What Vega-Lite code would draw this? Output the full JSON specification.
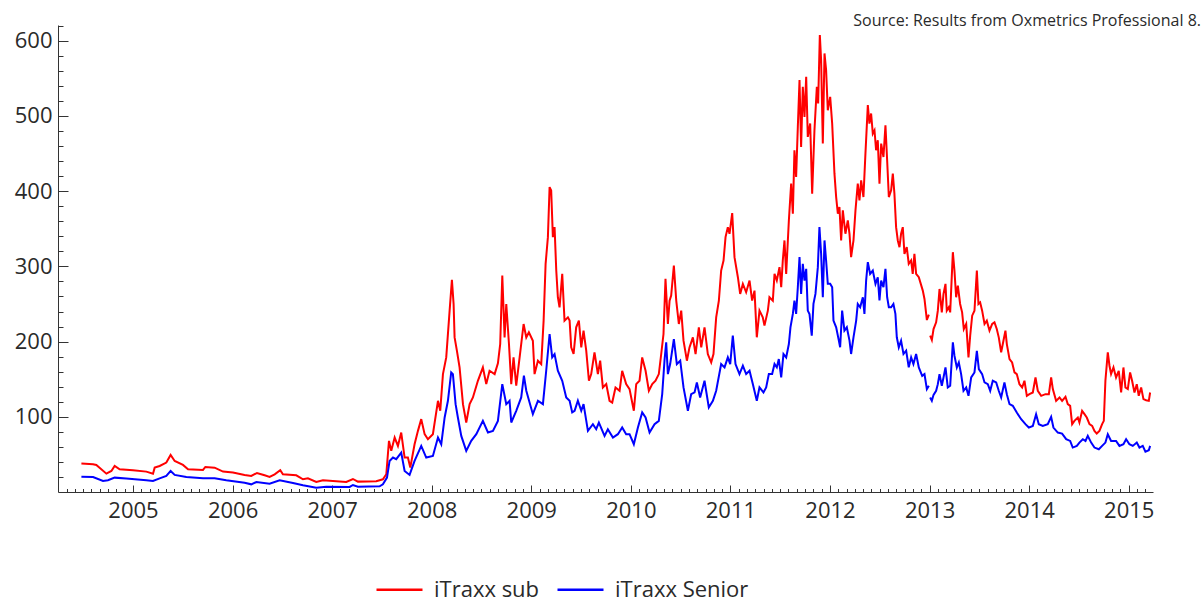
{
  "$schema": "https://vega.github.io/schema/vega-lite/v6.json",
  "width": 1095,
  "height": 467,
  "autosize": {"type": "none"},
  "padding": {"left": 58, "top": 25, "right": 49, "bottom": 107},
  "background": "white",
  "config": {"view": {"stroke": null}, "font": "Open Sans"},
  "title": {
    "text": "Source: Results from Oxmetrics Professional 8.",
    "anchor": "end",
    "orient": "top",
    "frame": "group",
    "font": "Open Sans",
    "fontSize": 16,
    "fontWeight": "normal",
    "color": "#2a2a2a",
    "dx": 48,
    "offset": -27,
    "baseline": "alphabetic"
  },
  "datasets": {
    "sub": [
      {"t":2004.482,"v":37.8},{"t":2004.599,"v":36.9},{"t":2004.632,"v":36.0},{"t":2004.733,"v":24.4},{"t":2004.783,"v":28.0},{"t":2004.816,"v":34.6},{"t":2004.866,"v":30.2},{"t":2005.000,"v":28.9},{"t":2005.134,"v":27.1},{"t":2005.201,"v":24.4},{"t":2005.218,"v":32.4},{"t":2005.268,"v":34.6},{"t":2005.335,"v":39.1},{"t":2005.378,"v":49.3},{"t":2005.419,"v":41.3},{"t":2005.502,"v":36.0},{"t":2005.553,"v":30.2},{"t":2005.703,"v":29.3},{"t":2005.727,"v":33.3},{"t":2005.820,"v":32.4},{"t":2005.904,"v":27.1},{"t":2006.004,"v":25.8},{"t":2006.121,"v":22.7},{"t":2006.188,"v":21.3},{"t":2006.245,"v":25.3},{"t":2006.322,"v":22.2},{"t":2006.372,"v":20.0},{"t":2006.423,"v":23.5},{"t":2006.479,"v":28.9},{"t":2006.506,"v":23.5},{"t":2006.640,"v":22.2},{"t":2006.707,"v":16.9},{"t":2006.757,"v":18.2},{"t":2006.841,"v":13.3},{"t":2006.908,"v":15.6},{"t":2007.142,"v":13.3},{"t":2007.209,"v":17.3},{"t":2007.259,"v":13.8},{"t":2007.443,"v":14.2},
      {"t":2007.510,"v":16.9},{"t":2007.544,"v":23.6},{"t":2007.571,"v":68.0},{"t":2007.594,"v":54.7},{"t":2007.628,"v":72.4},{"t":2007.661,"v":61.3},{"t":2007.694,"v":79.1},{"t":2007.728,"v":45.8},{"t":2007.761,"v":45.8},{"t":2007.785,"v":32.5},{"t":2007.828,"v":63.5},{"t":2007.862,"v":81.3},{"t":2007.895,"v":96.9},{"t":2007.929,"v":76.9},{"t":2007.962,"v":70.2},{"t":2008.012,"v":76.9},{"t":2008.063,"v":121.3},{"t":2008.086,"v":108.0},{"t":2008.113,"v":156.8},{"t":2008.146,"v":179.0},{"t":2008.180,"v":241.2},{"t":2008.203,"v":282.0},{"t":2008.220,"v":250.0},{"t":2008.230,"v":205.6},{"t":2008.253,"v":187.9},{"t":2008.280,"v":165.7},{"t":2008.314,"v":116.8},{"t":2008.347,"v":92.4},{"t":2008.381,"v":116.8},{"t":2008.414,"v":125.7},{"t":2008.464,"v":147.9},{"t":2008.514,"v":165.7},{"t":2008.548,"v":143.5},{"t":2008.581,"v":161.2},{"t":2008.632,"v":156.8},{"t":2008.665,"v":171.0},{"t":2008.688,"v":196.8},{"t":2008.709,"v":287.8},{"t":2008.732,"v":205.6},{"t":2008.749,"v":250.0},{"t":2008.776,"v":196.8},{"t":2008.799,"v":143.5},{"t":2008.822,"v":179.0},{"t":2008.849,"v":141.3},{"t":2008.883,"v":179.0},{"t":2008.923,"v":223.4},{"t":2008.950,"v":205.6},{"t":2008.976,"v":212.3},{"t":2009.016,"v":201.2},{"t":2009.033,"v":156.8},{"t":2009.067,"v":174.6},{"t":2009.100,"v":170.1},{"t":2009.124,"v":227.9},{"t":2009.144,"v":303.4},{"t":2009.167,"v":338.9},{"t":2009.184,"v":405.5},{"t":2009.200,"v":401.0},{"t":2009.217,"v":338.9},{"t":2009.234,"v":352.2},{"t":2009.251,"v":294.5},{"t":2009.267,"v":259.0},{"t":2009.284,"v":245.6},{"t":2009.311,"v":290.0},{"t":2009.334,"v":227.9},{"t":2009.368,"v":232.3},
      {"t":2009.385,"v":227.9},{"t":2009.401,"v":192.3},{"t":2009.425,"v":183.5},{"t":2009.451,"v":219.0},{"t":2009.478,"v":227.9},{"t":2009.502,"v":192.3},{"t":2009.525,"v":214.5},{"t":2009.552,"v":187.9},{"t":2009.579,"v":147.9},{"t":2009.602,"v":156.8},{"t":2009.635,"v":185.7},{"t":2009.669,"v":156.8},{"t":2009.692,"v":174.6},{"t":2009.719,"v":139.0},{"t":2009.753,"v":143.5},{"t":2009.786,"v":121.3},{"t":2009.813,"v":119.0},{"t":2009.846,"v":139.0},{"t":2009.887,"v":134.6},{"t":2009.913,"v":161.2},{"t":2009.953,"v":143.5},{"t":2009.987,"v":136.8},{"t":2010.030,"v":108.0},{"t":2010.054,"v":143.5},{"t":2010.087,"v":147.9},{"t":2010.114,"v":179.0},{"t":2010.148,"v":161.2},{"t":2010.181,"v":134.6},{"t":2010.215,"v":143.5},{"t":2010.248,"v":147.9},{"t":2010.281,"v":156.8},{"t":2010.305,"v":183.5},{"t":2010.328,"v":210.1},{"t":2010.348,"v":283.4},{"t":2010.372,"v":223.4},{"t":2010.389,"v":254.5},{"t":2010.405,"v":261.2},{"t":2010.432,"v":301.1},{"t":2010.456,"v":254.5},{"t":2010.482,"v":223.4},{"t":2010.506,"v":241.2},{"t":2010.529,"v":201.2},{"t":2010.563,"v":174.6},{"t":2010.589,"v":192.3},{"t":2010.623,"v":205.7},{"t":2010.650,"v":183.5},{"t":2010.683,"v":219.0},{"t":2010.707,"v":192.3},{"t":2010.740,"v":219.0},{"t":2010.773,"v":183.5},{"t":2010.807,"v":172.4},{"t":2010.830,"v":183.5},{"t":2010.857,"v":232.3},{"t":2010.884,"v":254.5},{"t":2010.907,"v":294.5},{"t":2010.931,"v":307.8},{"t":2010.951,"v":338.9},{"t":2010.974,"v":352.2},{"t":2010.991,"v":343.3},{"t":2011.018,"v":371.0},{"t":2011.041,"v":312.3},{"t":2011.075,"v":285.6},{"t":2011.098,"v":263.4},{"t":2011.125,"v":276.7},{"t":2011.158,"v":265.6},{"t":2011.192,"v":281.2},{"t":2011.218,"v":254.5},{"t":2011.242,"v":267.8},{"t":2011.265,"v":205.7},
      {"t":2011.292,"v":241.2},{"t":2011.325,"v":232.3},{"t":2011.342,"v":221.2},{"t":2011.376,"v":241.2},{"t":2011.392,"v":259.0},{"t":2011.426,"v":254.5},{"t":2011.443,"v":290.1},{"t":2011.466,"v":281.2},{"t":2011.493,"v":299.0},{"t":2011.510,"v":272.3},{"t":2011.526,"v":307.9},{"t":2011.543,"v":334.5},{"t":2011.560,"v":290.1},{"t":2011.587,"v":361.1},{"t":2011.610,"v":410.0},{"t":2011.627,"v":370.0},{"t":2011.643,"v":454.4},{"t":2011.660,"v":418.9},{"t":2011.677,"v":485.5},{"t":2011.694,"v":547.7},{"t":2011.710,"v":458.8},{"t":2011.727,"v":538.8},{"t":2011.744,"v":498.8},{"t":2011.761,"v":552.1},{"t":2011.777,"v":472.2},{"t":2011.801,"v":490.0},{"t":2011.821,"v":396.7},{"t":2011.844,"v":481.0},{"t":2011.868,"v":538.8},{"t":2011.881,"v":516.6},{"t":2011.898,"v":607.6},{"t":2011.911,"v":574.3},{"t":2011.928,"v":463.3},{"t":2011.945,"v":583.2},{"t":2011.961,"v":561.0},{"t":2011.978,"v":507.7},{"t":2012.002,"v":525.5},{"t":2012.022,"v":489.9},{"t":2012.045,"v":423.3},{"t":2012.062,"v":392.2},{"t":2012.079,"v":370.0},{"t":2012.095,"v":378.9},{"t":2012.112,"v":334.5},{"t":2012.129,"v":374.5},{"t":2012.155,"v":343.4},{"t":2012.179,"v":361.1},{"t":2012.196,"v":343.4},{"t":2012.212,"v":312.3},{"t":2012.236,"v":334.5},{"t":2012.256,"v":374.5},{"t":2012.279,"v":410.0},{"t":2012.296,"v":387.8},{"t":2012.313,"v":414.4},{"t":2012.336,"v":392.2},{"t":2012.356,"v":450.0},{"t":2012.380,"v":514.4},{"t":2012.396,"v":489.9},{"t":2012.413,"v":503.3},{"t":2012.430,"v":476.6},{"t":2012.447,"v":481.0},{"t":2012.463,"v":454.4},{"t":2012.480,"v":467.7},{"t":2012.497,"v":410.0},{"t":2012.514,"v":463.3},{"t":2012.537,"v":445.5},{"t":2012.557,"v":487.7},{"t":2012.574,"v":441.1},{"t":2012.591,"v":392.2},{"t":2012.614,"v":401.1},{"t":2012.631,"v":423.3},{"t":2012.647,"v":396.7},{"t":2012.664,"v":352.2},{"t":2012.681,"v":334.5},{"t":2012.698,"v":325.6},{"t":2012.714,"v":343.4},{"t":2012.731,"v":352.2},{"t":2012.748,"v":316.7},{"t":2012.771,"v":325.6},{"t":2012.791,"v":303.4},{"t":2012.815,"v":307.9},{"t":2012.831,"v":290.1},{"t":2012.848,"v":316.7},{"t":2012.865,"v":290.1},{"t":2012.892,"v":285.6},
      {"t":2012.932,"v":267.8},{"t":2012.949,"v":256.7},{"t":2012.973,"v":228.7},{"t":2012.993,"v":235.8},{"t":2013.000,"v":null},{"t":2013.006,"v":207.8},{"t":2013.023,"v":202.1},{"t":2013.040,"v":216.7},{"t":2013.066,"v":225.6},{"t":2013.083,"v":241.1},{"t":2013.100,"v":270.0},{"t":2013.123,"v":238.9},{"t":2013.140,"v":263.3},{"t":2013.160,"v":276.7},{"t":2013.173,"v":241.1},{"t":2013.193,"v":245.6},{"t":2013.207,"v":238.9},{"t":2013.234,"v":318.9},{"t":2013.250,"v":294.4},{"t":2013.267,"v":258.9},{"t":2013.284,"v":274.4},{"t":2013.307,"v":250.0},{"t":2013.327,"v":238.9},{"t":2013.344,"v":216.7},{"t":2013.368,"v":223.4},{"t":2013.391,"v":179.0},{"t":2013.408,"v":207.8},{"t":2013.428,"v":234.5},{"t":2013.451,"v":241.1},{"t":2013.475,"v":294.4},{"t":2013.491,"v":250.0},{"t":2013.508,"v":252.2},{"t":2013.528,"v":241.1},{"t":2013.552,"v":223.4},{"t":2013.575,"v":227.8},{"t":2013.602,"v":214.5},{"t":2013.629,"v":223.4},{"t":2013.652,"v":225.6},{"t":2013.675,"v":216.7},{"t":2013.695,"v":205.6},{"t":2013.719,"v":185.6},{"t":2013.742,"v":201.2},{"t":2013.762,"v":214.5},{"t":2013.776,"v":196.7},{"t":2013.803,"v":176.7},{"t":2013.829,"v":172.3},{"t":2013.853,"v":159.0},{"t":2013.876,"v":156.8},{"t":2013.903,"v":143.4},{"t":2013.930,"v":139.0},{"t":2013.953,"v":147.9},{"t":2013.977,"v":127.9},{"t":2014.003,"v":130.1},{"t":2014.037,"v":132.3},{"t":2014.064,"v":152.3},{"t":2014.087,"v":134.6},{"t":2014.121,"v":127.9},{"t":2014.164,"v":130.1},{"t":2014.198,"v":130.1},{"t":2014.221,"v":152.3},{"t":2014.238,"v":136.8},{"t":2014.271,"v":121.2},{"t":2014.305,"v":125.7},{"t":2014.331,"v":121.2},{"t":2014.365,"v":126.6},{"t":2014.388,"v":116.8},{"t":2014.412,"v":114.6},{"t":2014.432,"v":90.2},{"t":2014.455,"v":94.6},{"t":2014.489,"v":99.0},{"t":2014.505,"v":92.4},{"t":2014.532,"v":107.9},{"t":2014.556,"v":103.5},{"t":2014.579,"v":99.0},{"t":2014.606,"v":90.2},{"t":2014.633,"v":87.9},{"t":2014.656,"v":81.3},{"t":2014.679,"v":77.7},{"t":2014.706,"v":81.3},{"t":2014.733,"v":90.2},{"t":2014.750,"v":94.6},{"t":2014.766,"v":147.9},{"t":2014.790,"v":185.6},{"t":2014.807,"v":167.9},{"t":2014.823,"v":156.8},{"t":2014.847,"v":165.6},{"t":2014.873,"v":152.3},{"t":2014.900,"v":161.2},{"t":2014.924,"v":132.3},{"t":2014.947,"v":165.6},{"t":2014.967,"v":139.0},{"t":2014.991,"v":136.8},{"t":2015.014,"v":159.0},{"t":2015.034,"v":147.9},{"t":2015.058,"v":132.3},{"t":2015.081,"v":143.4},{"t":2015.101,"v":127.9},{"t":2015.125,"v":139.0},{"t":2015.148,"v":123.5},{"t":2015.175,"v":122.1},{"t":2015.202,"v":121.2},{"t":2015.215,"v":132.3}
    ],
    "senior": [
      {"t":2004.482,"v":20.4},{"t":2004.599,"v":20.0},{"t":2004.699,"v":14.7},{"t":2004.749,"v":15.6},{"t":2004.816,"v":19.1},{"t":2004.933,"v":17.8},{"t":2005.134,"v":15.6},{"t":2005.201,"v":14.7},{"t":2005.268,"v":18.2},{"t":2005.335,"v":21.3},{"t":2005.378,"v":28.0},{"t":2005.419,"v":22.7},{"t":2005.536,"v":20.0},{"t":2005.703,"v":18.2},{"t":2005.820,"v":18.2},{"t":2005.937,"v":15.6},{"t":2006.121,"v":12.4},{"t":2006.188,"v":10.2},{"t":2006.239,"v":13.3},{"t":2006.372,"v":11.1},{"t":2006.473,"v":15.6},{"t":2006.607,"v":12.0},{"t":2006.707,"v":8.9},{"t":2006.841,"v":5.8},{"t":2006.941,"v":7.1},{"t":2007.176,"v":6.7},{"t":2007.209,"v":9.3},{"t":2007.259,"v":7.1},{"t":2007.477,"v":7.6},
      {"t":2007.510,"v":10.2},{"t":2007.551,"v":19.1},{"t":2007.577,"v":41.3},{"t":2007.611,"v":45.8},{"t":2007.644,"v":43.6},{"t":2007.694,"v":52.4},{"t":2007.728,"v":28.0},{"t":2007.778,"v":22.7},{"t":2007.828,"v":41.3},{"t":2007.895,"v":61.3},{"t":2007.945,"v":45.8},{"t":2008.012,"v":48.0},{"t":2008.063,"v":72.4},{"t":2008.096,"v":63.5},{"t":2008.130,"v":99.1},{"t":2008.163,"v":121.3},{"t":2008.196,"v":159.0},{"t":2008.213,"v":156.8},{"t":2008.240,"v":116.8},{"t":2008.263,"v":99.1},{"t":2008.297,"v":74.6},{"t":2008.347,"v":54.7},{"t":2008.397,"v":68.0},{"t":2008.448,"v":76.9},{"t":2008.514,"v":94.6},{"t":2008.565,"v":79.1},{"t":2008.615,"v":81.3},{"t":2008.665,"v":94.6},{"t":2008.709,"v":143.5},{"t":2008.749,"v":116.8},{"t":2008.782,"v":121.3},{"t":2008.799,"v":92.4},{"t":2008.849,"v":108.0},{"t":2008.899,"v":125.7},{"t":2008.926,"v":154.6},{"t":2008.950,"v":134.6},{"t":2008.983,"v":119.0},{"t":2009.016,"v":103.5},{"t":2009.067,"v":121.3},{"t":2009.117,"v":116.8},{"t":2009.150,"v":161.2},{"t":2009.184,"v":210.1},{"t":2009.210,"v":179.0},{"t":2009.234,"v":183.4},{"t":2009.267,"v":161.2},{"t":2009.311,"v":147.9},{"t":2009.351,"v":125.7},
      {"t":2009.385,"v":121.3},{"t":2009.411,"v":105.8},{"t":2009.435,"v":108.0},{"t":2009.468,"v":121.3},{"t":2009.502,"v":108.0},{"t":2009.525,"v":116.8},{"t":2009.569,"v":81.3},{"t":2009.619,"v":90.2},{"t":2009.652,"v":83.5},{"t":2009.679,"v":92.4},{"t":2009.736,"v":74.6},{"t":2009.769,"v":83.5},{"t":2009.820,"v":72.4},{"t":2009.870,"v":76.9},{"t":2009.913,"v":85.8},{"t":2009.953,"v":76.9},{"t":2009.987,"v":76.9},{"t":2010.030,"v":63.5},{"t":2010.071,"v":85.8},{"t":2010.114,"v":105.8},{"t":2010.148,"v":99.1},{"t":2010.188,"v":79.1},{"t":2010.238,"v":90.2},{"t":2010.281,"v":94.6},{"t":2010.315,"v":130.2},{"t":2010.338,"v":174.6},{"t":2010.355,"v":199.0},{"t":2010.372,"v":156.8},{"t":2010.395,"v":170.1},{"t":2010.432,"v":203.4},{"t":2010.462,"v":170.1},{"t":2010.496,"v":174.6},{"t":2010.529,"v":139.0},{"t":2010.573,"v":108.0},{"t":2010.606,"v":130.2},{"t":2010.640,"v":132.4},{"t":2010.663,"v":145.7},{"t":2010.696,"v":125.7},{"t":2010.740,"v":147.9},{"t":2010.783,"v":112.4},{"t":2010.824,"v":121.3},{"t":2010.857,"v":134.6},{"t":2010.907,"v":170.1},{"t":2010.941,"v":165.7},{"t":2010.974,"v":179.0},{"t":2010.998,"v":170.1},{"t":2011.024,"v":207.9},{"t":2011.051,"v":170.1},{"t":2011.091,"v":156.8},{"t":2011.125,"v":167.9},{"t":2011.158,"v":156.8},{"t":2011.192,"v":161.2},{"t":2011.225,"v":143.5},{"t":2011.265,"v":121.3},
      {"t":2011.292,"v":139.1},{"t":2011.332,"v":132.4},{"t":2011.359,"v":139.1},{"t":2011.386,"v":156.8},{"t":2011.419,"v":156.8},{"t":2011.443,"v":170.2},{"t":2011.466,"v":165.7},{"t":2011.486,"v":176.8},{"t":2011.510,"v":152.4},{"t":2011.533,"v":183.5},{"t":2011.560,"v":179.0},{"t":2011.587,"v":196.8},{"t":2011.603,"v":219.0},{"t":2011.627,"v":236.8},{"t":2011.643,"v":254.6},{"t":2011.660,"v":236.8},{"t":2011.677,"v":272.3},{"t":2011.694,"v":312.3},{"t":2011.710,"v":263.4},{"t":2011.727,"v":303.4},{"t":2011.744,"v":281.2},{"t":2011.761,"v":296.7},{"t":2011.777,"v":241.2},{"t":2011.794,"v":236.8},{"t":2011.817,"v":207.9},{"t":2011.834,"v":250.1},{"t":2011.854,"v":263.4},{"t":2011.878,"v":299.0},{"t":2011.894,"v":352.3},{"t":2011.911,"v":316.7},{"t":2011.928,"v":259.0},{"t":2011.945,"v":334.5},{"t":2011.961,"v":307.9},{"t":2011.978,"v":276.8},{"t":2012.002,"v":276.8},{"t":2012.022,"v":272.3},{"t":2012.035,"v":227.9},{"t":2012.062,"v":219.0},{"t":2012.089,"v":201.3},{"t":2012.102,"v":192.4},{"t":2012.122,"v":241.2},{"t":2012.145,"v":214.6},{"t":2012.169,"v":219.0},{"t":2012.196,"v":201.3},{"t":2012.212,"v":183.5},{"t":2012.236,"v":205.7},{"t":2012.263,"v":227.9},{"t":2012.279,"v":250.1},{"t":2012.303,"v":245.7},{"t":2012.330,"v":259.0},{"t":2012.346,"v":236.8},{"t":2012.363,"v":281.2},{"t":2012.380,"v":305.6},{"t":2012.403,"v":290.1},{"t":2012.430,"v":294.5},{"t":2012.457,"v":276.8},{"t":2012.480,"v":285.6},{"t":2012.497,"v":254.6},{"t":2012.514,"v":281.2},{"t":2012.537,"v":272.3},{"t":2012.557,"v":296.7},{"t":2012.574,"v":259.0},{"t":2012.591,"v":245.7},{"t":2012.614,"v":245.7},{"t":2012.637,"v":250.1},{"t":2012.657,"v":236.8},{"t":2012.671,"v":205.7},{"t":2012.691,"v":192.4},{"t":2012.714,"v":201.3},{"t":2012.738,"v":183.5},{"t":2012.765,"v":188.0},{"t":2012.791,"v":165.7},{"t":2012.815,"v":179.0},{"t":2012.838,"v":170.2},{"t":2012.865,"v":183.5},{"t":2012.892,"v":165.7},
      {"t":2012.926,"v":154.5},{"t":2012.949,"v":156.8},{"t":2012.973,"v":136.8},{"t":2012.993,"v":141.2},{"t":2013.000,"v":null},{"t":2013.006,"v":125.7},{"t":2013.023,"v":121.2},{"t":2013.040,"v":129.2},{"t":2013.066,"v":134.6},{"t":2013.083,"v":143.4},{"t":2013.100,"v":156.8},{"t":2013.123,"v":141.2},{"t":2013.140,"v":152.3},{"t":2013.160,"v":165.6},{"t":2013.183,"v":139.0},{"t":2013.207,"v":141.2},{"t":2013.234,"v":199.0},{"t":2013.250,"v":181.2},{"t":2013.274,"v":165.6},{"t":2013.294,"v":172.3},{"t":2013.317,"v":156.8},{"t":2013.341,"v":134.6},{"t":2013.368,"v":139.0},{"t":2013.391,"v":127.9},{"t":2013.418,"v":152.3},{"t":2013.451,"v":159.0},{"t":2013.475,"v":187.8},{"t":2013.495,"v":163.4},{"t":2013.528,"v":156.8},{"t":2013.552,"v":145.7},{"t":2013.585,"v":143.4},{"t":2013.609,"v":134.6},{"t":2013.635,"v":147.9},{"t":2013.669,"v":145.7},{"t":2013.695,"v":134.6},{"t":2013.719,"v":125.7},{"t":2013.752,"v":145.7},{"t":2013.776,"v":130.1},{"t":2013.803,"v":116.8},{"t":2013.836,"v":114.6},{"t":2013.876,"v":105.7},{"t":2013.920,"v":96.8},{"t":2013.963,"v":90.2},{"t":2013.997,"v":85.7},{"t":2014.037,"v":87.9},{"t":2014.070,"v":103.5},{"t":2014.097,"v":90.2},{"t":2014.137,"v":87.9},{"t":2014.187,"v":90.2},{"t":2014.221,"v":99.9},{"t":2014.244,"v":85.7},{"t":2014.288,"v":79.0},{"t":2014.331,"v":77.7},{"t":2014.372,"v":70.2},{"t":2014.412,"v":67.9},{"t":2014.438,"v":59.1},{"t":2014.479,"v":61.3},{"t":2014.505,"v":65.7},{"t":2014.539,"v":70.2},{"t":2014.566,"v":67.9},{"t":2014.589,"v":74.6},{"t":2014.623,"v":65.7},{"t":2014.656,"v":59.1},{"t":2014.700,"v":56.8},{"t":2014.733,"v":61.3},{"t":2014.766,"v":65.7},{"t":2014.790,"v":76.8},{"t":2014.823,"v":67.9},{"t":2014.873,"v":67.9},{"t":2014.907,"v":61.3},{"t":2014.947,"v":63.5},{"t":2014.974,"v":70.2},{"t":2015.007,"v":63.5},{"t":2015.041,"v":61.3},{"t":2015.081,"v":65.7},{"t":2015.108,"v":59.1},{"t":2015.141,"v":61.3},{"t":2015.168,"v":53.7},{"t":2015.202,"v":55.5},{"t":2015.215,"v":61.3}
    ]
  },
  "encoding": {
    "x": {
      "field": "t",
      "type": "quantitative",
      "scale": {"domain": [2004.247, 2015.244], "nice": false, "zero": false},
      "axis": {
        "title": null,
        "grid": false,
        "values": [2004.3333,2004.4167,2004.5,2004.5833,2004.6667,2004.75,2004.8333,2004.9167,2005,2005.0833,2005.1667,2005.25,2005.3333,2005.4167,2005.5,2005.5833,2005.6667,2005.75,2005.8333,2005.9167,2006,2006.0833,2006.1667,2006.25,2006.3333,2006.4167,2006.5,2006.5833,2006.6667,2006.75,2006.8333,2006.9167,2007,2007.0833,2007.1667,2007.25,2007.3333,2007.4167,2007.5,2007.5833,2007.6667,2007.75,2007.8333,2007.9167,2008,2008.0833,2008.1667,2008.25,2008.3333,2008.4167,2008.5,2008.5833,2008.6667,2008.75,2008.8333,2008.9167,2009,2009.0833,2009.1667,2009.25,2009.3333,2009.4167,2009.5,2009.5833,2009.6667,2009.75,2009.8333,2009.9167,2010,2010.0833,2010.1667,2010.25,2010.3333,2010.4167,2010.5,2010.5833,2010.6667,2010.75,2010.8333,2010.9167,2011,2011.0833,2011.1667,2011.25,2011.3333,2011.4167,2011.5,2011.5833,2011.6667,2011.75,2011.8333,2011.9167,2012,2012.0833,2012.1667,2012.25,2012.3333,2012.4167,2012.5,2012.5833,2012.6667,2012.75,2012.8333,2012.9167,2013,2013.0833,2013.1667,2013.25,2013.3333,2013.4167,2013.5,2013.5833,2013.6667,2013.75,2013.8333,2013.9167,2014,2014.0833,2014.1667,2014.25,2014.3333,2014.4167,2014.5,2014.5833,2014.6667,2014.75,2014.8333,2014.9167,2015,2015.0833,2015.1667],
        "labelExpr": "datum.value % 1 === 0 ? format(datum.value, 'd') : ''",
        "labelOverlap": false,
        "labelFlush": false,
        "labelFont": "Open Sans",
        "labelFontSize": 22,
        "labelColor": "#2a2a2a",
        "labelPadding": 15,
        "domainColor": "#333333",
        "domainWidth": 1,
        "tickColor": "#333333",
        "tickWidth": 1,
        "tickSize": {"condition": {"test": "datum.value % 1 === 0", "value": -7}, "value": -3.5}
      }
    },
    "y": {
      "field": "v",
      "type": "quantitative",
      "scale": {"domain": [0, 621], "nice": false, "zero": false},
      "axis": {
        "title": null,
        "grid": false,
        "values": [20,40,60,80,100,120,140,160,180,200,220,240,260,280,300,320,340,360,380,400,420,440,460,480,500,520,540,560,580,600,620],
        "labelExpr": "datum.value % 100 === 0 ? format(datum.value, 'd') : ''",
        "labelOverlap": false,
        "labelFlush": false,
        "labelFont": "Open Sans",
        "labelFontSize": 22,
        "labelColor": "#2a2a2a",
        "labelPadding": 16,
        "domainColor": "#333333",
        "domainWidth": 1,
        "tickColor": "#333333",
        "tickWidth": 1,
        "tickSize": {"condition": {"test": "datum.value % 100 === 0", "value": -10}, "value": -5}
      }
    },
    "color": {
      "scale": {"domain": ["iTraxx sub", "iTraxx Senior"], "range": ["#ff0000", "#0000ff"]},
      "legend": {
        "orient": "none",
        "legendX": 317,
        "legendY": 540,
        "direction": "horizontal",
        "title": null,
        "padding": 0,
        "symbolType": "stroke",
        "symbolSize": 2116,
        "symbolStrokeWidth": 2.5,
        "labelFont": "Open Sans",
        "labelFontSize": 22,
        "labelColor": "#2a2a2a",
        "labelOffset": 10,
        "columnPadding": 12
      }
    }
  },
  "layer": [
    {
      "data": {"name": "sub"},
      "mark": {"type": "line", "strokeWidth": 2, "invalid": "break-paths-show-domains"},
      "encoding": {"color": {"datum": "iTraxx sub"}}
    },
    {
      "data": {"name": "senior"},
      "mark": {"type": "line", "strokeWidth": 2, "invalid": "break-paths-show-domains"},
      "encoding": {"color": {"datum": "iTraxx Senior"}}
    }
  ]
}
